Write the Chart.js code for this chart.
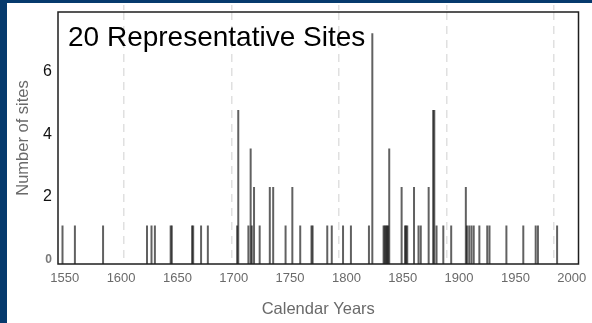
<!DOCTYPE html>
<html>
<head>
<meta charset="utf-8">
<script src="https://cdn.jsdelivr.net/npm/chart.js@4/dist/chart.umd.min.js"></script>
<style>
  html, body { margin: 0; padding: 0; }
  body { width: 592px; height: 323px; background: #063a6d; position: relative; overflow: hidden; }
  #panel { position: absolute; left: 7px; top: 3px; width: 585px; height: 320px; background: #ffffff; }
  canvas { display: block; }
</style>
</head>
<body>
<div id="panel"><canvas id="c" width="585" height="320"></canvas></div>
<script>
// Fire years recorded across the sample, with the number of sites scarred in each year
const fireYears = [
  1548, 1559, 1584, 1623, 1627, 1630,
  1644, 1645, 1663, 1664, 1671, 1677,
  1703, 1704, 1713, 1715, 1716, 1718, 1723,
  1732, 1735, 1746, 1752, 1759,
  1769, 1770, 1783, 1787, 1797, 1804,
  1820, 1823,
  1833, 1834, 1835, 1836, 1837, 1838,
  1849, 1852, 1853, 1854,
  1860, 1864, 1866,
  1873, 1877, 1878, 1880,
  1886, 1893,
  1906, 1907, 1909, 1911, 1913,
  1918, 1925, 1927,
  1942, 1957, 1968, 1970, 1987
];
const siteCounts = [
  1, 1, 1, 1, 1, 1,
  1, 1, 1, 1, 1, 1,
  1, 4, 1, 3, 1, 2, 1,
  2, 2, 1, 2, 1,
  1, 1, 1, 1, 1, 1,
  1, 6,
  1, 1, 1, 1, 1, 3,
  2, 1, 1, 1,
  2, 1, 1,
  2, 4, 4, 1,
  1, 1,
  2, 1, 1, 1, 1,
  1, 1, 1,
  1, 1, 1, 1, 1
];
// Axis labels
const yearTicks = [1550, 1600, 1650, 1700, 1750, 1800, 1850, 1900, 1950, 2000];
const centuryLines = [1600, 1700, 1800, 1900, 2000];
const siteTicks = [0, 2, 4, 6];

const chartTitle = '20 Representative Sites';
const xTitle = 'Calendar Years';
const yTitle = 'Number of sites';
const FONT = '"Liberation Sans", Arial, sans-serif';

const points = fireYears.map((yr, i) => ({ x: yr, y: siteCounts[i] }));

// Frame around the plot area and the caption inside it
const framePlugin = {
  id: 'frame',
  afterDatasetsDraw(chart) {
    const { ctx, chartArea: a } = chart;
    ctx.save();
    ctx.strokeStyle = '#1e1e1e';
    ctx.lineWidth = 1.5;
    ctx.strokeRect(a.left, a.top, a.right - a.left, a.bottom - a.top);
    ctx.fillStyle = '#000';
    ctx.font = '28px ' + FONT;
    ctx.textBaseline = 'alphabetic';
    ctx.textAlign = 'left';
    ctx.fillText(chartTitle, a.left + 10, a.top + 33.5);
    ctx.restore();
  }
};

const noEdgePadding = s => { s.paddingTop = 0; s.paddingBottom = 0; s.paddingLeft = 0; s.paddingRight = 0; };

new Chart(document.getElementById('c'), {
  type: 'bar',
  data: {
    datasets: [{
      data: points,
      xAxisID: 'x',
      yAxisID: 'y',
      backgroundColor: 'rgba(0,0,0,0.62)',
      borderWidth: 0,
      barThickness: 2,
      inflateAmount: 0
    }]
  },
  options: {
    responsive: false,
    animation: false,
    devicePixelRatio: 1,
    layout: { padding: { top: 0, right: 13.5, bottom: 0, left: 0 } },
    plugins: { legend: { display: false }, tooltip: { enabled: false } },
    scales: {
      x: {
        type: 'linear',
        position: 'bottom',
        min: 1544,
        max: 2006,
        offset: false,
        afterBuildTicks: s => { s.ticks = yearTicks.map(v => ({ value: v })); },
        afterFit: s => { s.height = 59; noEdgePadding(s); },
        grid: { display: false, drawTicks: false, offset: false },
        border: { display: false },
        ticks: {
          padding: 7,
          color: '#6a6a6a',
          font: { family: FONT, size: 13 },
          maxRotation: 0,
          autoSkip: false,
          callback: v => String(v)
        },
        title: {
          display: true,
          text: xTitle,
          color: '#6a6a6a',
          font: { family: FONT, size: 16.5 },
          padding: { top: 0, bottom: 4 }
        }
      },
      xg: {
        type: 'linear',
        position: 'top',
        min: 1538.7,
        max: 2022.7,
        offset: false,
        afterBuildTicks: s => { s.ticks = centuryLines.map(v => ({ value: v })); },
        afterFit: s => { s.height = 9; noEdgePadding(s); },
        ticks: { display: false },
        border: { display: false, dash: [8, 6] },
        grid: {
          display: true,
          offset: false,
          drawTicks: true,
          tickLength: 7,
          tickColor: '#e0e0e0',
          tickWidth: 1.5,
          tickBorderDash: [5, 3],
          color: '#e0e0e0',
          lineWidth: 1.5
        }
      },
      y: {
        type: 'linear',
        display: false,
        min: 0,
        max: 6.55
      },
      yl: {
        type: 'linear',
        position: 'left',
        min: -0.15,
        max: 7.91,
        afterBuildTicks: s => { s.ticks = siteTicks.map(v => ({ value: v })); },
        afterFit: s => { s.width = 51; noEdgePadding(s); },
        grid: { display: false, drawTicks: false },
        border: { display: false },
        ticks: {
          padding: 6,
          autoSkip: false,
          color: c => (c.tick && c.tick.value === 0) ? '#7a7a7a' : '#111111',
          font: c => (c.tick && c.tick.value === 0) ? { family: FONT, size: 12, weight: 'bold' } : { family: FONT, size: 16 },
          callback: v => String(v)
        },
        title: {
          display: true,
          text: yTitle,
          color: '#6a6a6a',
          font: { family: FONT, size: 16.5 },
          padding: { top: 7, bottom: 0 }
        }
      }
    }
  },
  plugins: [framePlugin]
});
</script>
</body>
</html>
